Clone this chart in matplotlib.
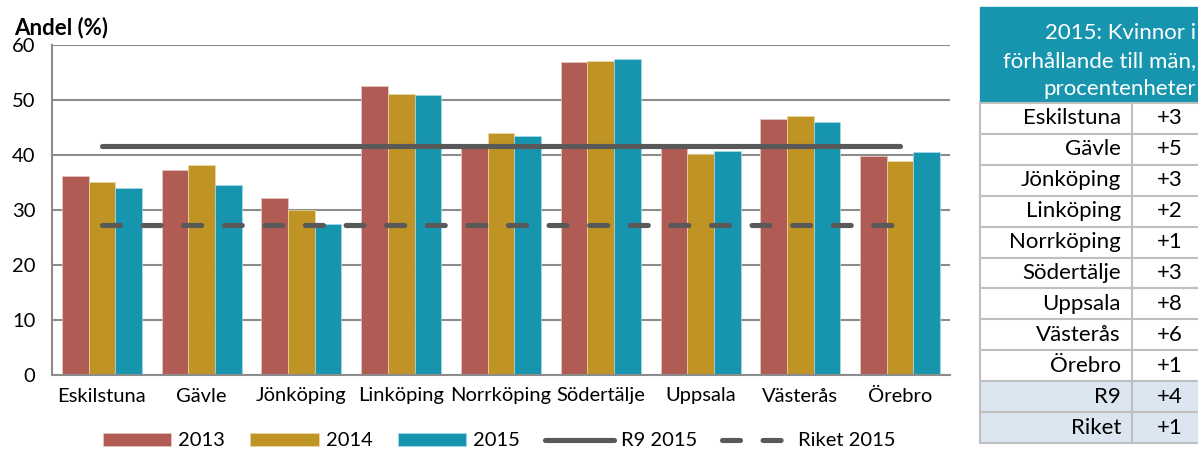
import numpy as np
import matplotlib.pyplot as plt
from matplotlib.patches import Rectangle

plt.rcParams['font.family'] = ['Lato', 'DejaVu Sans']

kommuner = ['Eskilstuna', 'Gävle', 'Jönköping', 'Linköping', 'Norrköping',
            'Södertälje', 'Uppsala', 'Västerås', 'Örebro']
andel_2013 = [36.2, 37.3, 32.2, 52.5, 41.4, 56.9, 41.4, 46.5, 39.9]
andel_2014 = [35.1, 38.2, 30.0, 51.1, 44.0, 57.1, 40.1, 47.1, 39.0]
andel_2015 = [34.0, 34.5, 27.5, 50.9, 43.5, 57.4, 40.8, 46.0, 40.5]
r9_2015 = 41.6
riket_2015 = 27.3

tabell_namn = kommuner + ['R9', 'Riket']
tabell_varde = ['+3', '+5', '+3', '+2', '+1', '+3', '+8', '+6', '+1', '+4', '+1']
tabell_rubrik = ['2015: Kvinnor i', 'förhållande till män,', 'procentenheter']

c2013 = '#b05c55'
c2014 = '#bf9424'
c2015 = '#1795ae'
c_linje = '#595959'

W, H = 1198, 453
fig = plt.figure(figsize=(W / 100, H / 100), dpi=100)
ax = fig.add_axes([52 / W, 1 - 375 / H, (950 - 52) / W, (375 - 45) / H])

x = np.arange(len(kommuner))
w = 0.267
b1 = ax.bar(x - w, andel_2013, w, color=c2013, edgecolor='#e8c8c4', lw=0.5, label='2013', zorder=2)
b2 = ax.bar(x, andel_2014, w, color=c2014, edgecolor='#ecd9a4', lw=0.5, label='2014', zorder=2)
b3 = ax.bar(x + w, andel_2015, w, color=c2015, edgecolor='#a8dbe5', lw=0.5, label='2015', zorder=2)
l1, = ax.plot([x[0], x[-1]], [r9_2015, r9_2015], color=c_linje, lw=3.7,
              solid_capstyle='round', label='R9 2015', zorder=3)
l2, = ax.plot([x[0], x[-1]], [riket_2015, riket_2015], color=c_linje, lw=3.7,
              dash_capstyle='round', linestyle=(0, (3.5, 4.4)), label='Riket 2015', zorder=3)

ax.set_xlim(-0.5, len(kommuner) - 0.5)
ax.set_ylim(0, 60)
ax.set_yticks(range(0, 61, 10))
ax.set_xticks(x)
ax.set_xticklabels(kommuner)
ax.tick_params(length=0, labelsize=14.5, pad=9)
ax.tick_params(axis='y', pad=12)
ax.yaxis.grid(True, color='#8c8c8c', lw=1.5, zorder=0)
ax.set_axisbelow(True)
for s in ['top', 'right']:
    ax.spines[s].set_visible(False)
for s in ['left', 'bottom']:
    ax.spines[s].set_color('#8c8c8c')
    ax.spines[s].set_linewidth(1.5)

fig.text(14 / W, 1 - 28 / H, 'Andel (%)', fontsize=16, fontweight='bold', va='center')

fig.legend(handles=[b1, b2, b3, l1, l2], loc='center', bbox_to_anchor=(499 / W, 1 - 441 / H),
           ncol=5, frameon=False, fontsize=14.5, handlelength=3.4, handleheight=0.6,
           columnspacing=1.25, handletextpad=0.35, borderpad=0, borderaxespad=0)

# tabellen till höger
tx = fig.add_axes([0, 0, 1, 1], zorder=-1)
tx.set_xlim(0, W)
tx.set_ylim(H, 0)
tx.axis('off')
left, mid, right = 980, 1132, 1260
top, head_bot = 7, 103
row_h = (443 - head_bot) / len(tabell_namn)
tx.add_patch(Rectangle((left, top), right - left, head_bot - top, color=c2015))
for i, t in enumerate(tabell_rubrik):
    tx.text(1196, 33 + i * 28, t, color='white', fontsize=16, ha='right', va='center')
for i, (n, v) in enumerate(zip(tabell_namn, tabell_varde)):
    y0 = head_bot + i * row_h
    fc = '#dce6f1' if n in ('R9', 'Riket') else 'white'
    tx.add_patch(Rectangle((left, y0), right - left, row_h, facecolor=fc,
                           edgecolor='#bfbfbf', lw=1.5))
    tx.plot([mid, mid], [y0, y0 + row_h], color='#bfbfbf', lw=1.5)
    tx.text(mid - 11, y0 + row_h / 2, n, fontsize=16, ha='right', va='center')
    tx.text(1170, y0 + row_h / 2, v, fontsize=16, ha='center', va='center')

fig.savefig('out.png', dpi=100)
